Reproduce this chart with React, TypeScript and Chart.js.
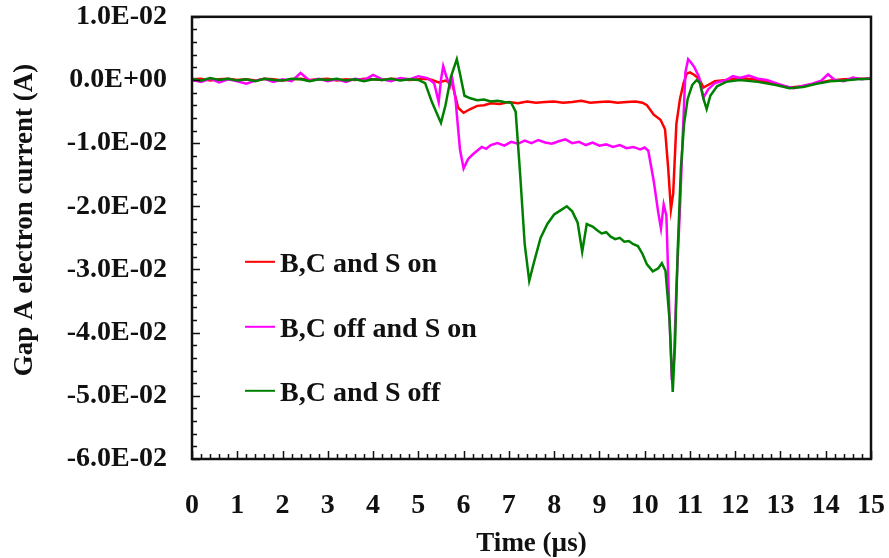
import React, { useEffect, useRef } from 'react';
import { Chart, registerables } from 'chart.js';
Chart.register(...registerables);

// ---- Data: [time (µs), current (A)] ----
const redSeries: [number, number][] = [
  [0, 0.0001], [0.2, 0.0002], [0.4, -0.0001], [0.6, 0.0001], [0.8, 0.0002], [1.0, 0.0], [1.2, 0.0001], [1.4, -0.0001], [1.6, 0.0002], [1.8, 0.0001],
  [2.0, -0.0001], [2.2, 0.0001], [2.4, 0.0002], [2.6, 0.0], [2.8, 0.0001], [3.0, 0.0002], [3.2, -0.0001], [3.4, 0.0001], [3.6, 0.0], [3.8, 0.0002],
  [4.0, 0.0001], [4.2, 0.0], [4.4, 0.0002], [4.6, 0.0001], [4.8, 0.0], [5.0, 0.0001], [5.2, 0.0002], [5.3, 0.0], [5.45, -0.0004], [5.6, -0.0001],
  [5.75, -0.0006], [5.88, -0.0044], [6.0, -0.0052], [6.15, -0.0046], [6.3, -0.0041], [6.45, -0.004], [6.6, -0.0037], [6.8, -0.0038], [7.0, -0.0035], [7.2, -0.0037],
  [7.4, -0.0034], [7.6, -0.0036], [7.8, -0.0035], [8.0, -0.0034], [8.2, -0.0036], [8.4, -0.0035], [8.6, -0.0033], [8.8, -0.0036], [9.0, -0.0035], [9.2, -0.0034],
  [9.4, -0.0036], [9.6, -0.0035], [9.8, -0.0034], [9.95, -0.0036], [10.05, -0.004], [10.2, -0.0055], [10.35, -0.0063], [10.45, -0.0078], [10.52, -0.014], [10.58, -0.0205],
  [10.63, -0.018], [10.7, -0.007], [10.78, -0.003], [10.86, -0.0005], [10.93, 0.001], [11.0, 0.0012], [11.1, 0.0008], [11.2, 0.0002], [11.3, -0.0012], [11.4, -0.0008],
  [11.55, -0.0002], [11.8, 0.0], [12.1, 0.0003], [12.4, 0.0001], [12.8, -0.0004], [13.2, -0.0012], [13.5, -0.001], [13.8, -0.0005], [14.1, -0.0001], [14.4, 0.0001],
  [14.7, 0.0002], [15.0, 0.0002],
];

const magentaSeries: [number, number][] = [
  [0, 0.0], [0.2, -0.0003], [0.4, 0.0002], [0.6, -0.0004], [0.8, 0.0001], [1.0, -0.0002], [1.2, -0.0006], [1.4, -0.0001], [1.6, 0.0002], [1.8, -0.0003],
  [2.0, 0.0001], [2.2, -0.0002], [2.4, 0.0011], [2.6, -0.0001], [2.8, 0.0002], [3.0, -0.0002], [3.2, 0.0001], [3.4, -0.0003], [3.6, 0.0002], [3.8, 0.0],
  [4.0, 0.0008], [4.2, 0.0001], [4.4, -0.0002], [4.6, 0.0003], [4.8, 0.0001], [5.0, 0.0006], [5.2, 0.0003], [5.35, -0.0005], [5.45, -0.0035], [5.5, 0.0],
  [5.55, 0.0022], [5.62, 0.0005], [5.7, -0.001], [5.75, 0.0002], [5.82, -0.003], [5.92, -0.011], [6.0, -0.014], [6.1, -0.0125], [6.2, -0.0118], [6.3, -0.0112],
  [6.4, -0.0106], [6.5, -0.0109], [6.6, -0.0103], [6.75, -0.01], [6.9, -0.0104], [7.05, -0.0098], [7.2, -0.0101], [7.35, -0.0096], [7.5, -0.01], [7.65, -0.0095],
  [7.8, -0.0099], [7.95, -0.0101], [8.1, -0.0097], [8.25, -0.0094], [8.4, -0.01], [8.55, -0.0098], [8.7, -0.0103], [8.85, -0.0099], [9.0, -0.0104], [9.15, -0.0102],
  [9.3, -0.0106], [9.45, -0.0103], [9.6, -0.0108], [9.75, -0.0106], [9.9, -0.011], [10.0, -0.0107], [10.08, -0.0112], [10.2, -0.016], [10.3, -0.021], [10.36, -0.0235],
  [10.42, -0.0197], [10.48, -0.0215], [10.55, -0.038], [10.6, -0.0475], [10.65, -0.044], [10.7, -0.033], [10.78, -0.0203], [10.84, -0.009], [10.9, 0.0012], [10.96, 0.0033],
  [11.02, 0.0028], [11.1, 0.002], [11.2, 0.0005], [11.3, -0.0028], [11.4, -0.0015], [11.55, -0.0005], [11.8, 0.0], [11.95, 0.0006], [12.1, 0.0003], [12.3, 0.0007],
  [12.5, 0.0002], [12.7, 0.0], [12.9, -0.0005], [13.1, -0.001], [13.3, -0.0013], [13.5, -0.0009], [13.7, -0.0006], [13.9, -0.0001], [14.05, 0.0009], [14.2, 0.0],
  [14.4, -0.0002], [14.6, 0.0004], [14.8, 0.0001], [15.0, 0.0003],
];

const greenSeries: [number, number][] = [
  [0, 0.0002], [0.2, -0.0001], [0.4, 0.0003], [0.6, 0.0], [0.8, 0.0002], [1.0, -0.0001], [1.2, 0.0001], [1.4, -0.0002], [1.6, 0.0002], [1.8, 0.0],
  [2.0, -0.0001], [2.2, 0.0002], [2.4, 0.0001], [2.6, -0.0002], [2.8, 0.0001], [3.0, 0.0], [3.2, 0.0002], [3.4, -0.0001], [3.6, 0.0001], [3.8, -0.0002],
  [4.0, 0.0001], [4.2, 0.0], [4.4, 0.0002], [4.6, -0.0001], [4.8, 0.0001], [5.0, 0.0], [5.15, -0.0005], [5.3, -0.0035], [5.5, -0.0068], [5.6, -0.004],
  [5.72, 0.0005], [5.85, 0.0033], [5.92, 0.001], [6.02, -0.0025], [6.15, -0.0029], [6.3, -0.0032], [6.45, -0.0031], [6.6, -0.0034], [6.75, -0.0033], [6.9, -0.0035],
  [7.05, -0.0036], [7.15, -0.005], [7.25, -0.015], [7.35, -0.026], [7.45, -0.0318], [7.55, -0.029], [7.7, -0.025], [7.85, -0.0228], [8.0, -0.0213], [8.15, -0.0206],
  [8.28, -0.02], [8.4, -0.0208], [8.52, -0.0226], [8.62, -0.0272], [8.72, -0.0228], [8.85, -0.0232], [8.95, -0.0238], [9.05, -0.0243], [9.15, -0.0241], [9.25, -0.0248],
  [9.35, -0.0252], [9.45, -0.025], [9.55, -0.0256], [9.65, -0.0255], [9.75, -0.026], [9.85, -0.0263], [9.95, -0.0275], [10.05, -0.0292], [10.18, -0.0303], [10.3, -0.0298],
  [10.38, -0.029], [10.46, -0.0302], [10.55, -0.038], [10.62, -0.0494], [10.67, -0.042], [10.73, -0.027], [10.8, -0.014], [10.87, -0.007], [10.95, -0.003], [11.05, -0.0008],
  [11.15, 0.0], [11.22, -0.0005], [11.3, -0.003], [11.37, -0.0046], [11.45, -0.0025], [11.6, -0.001], [11.8, -0.0003], [12.1, 0.0], [12.5, -0.0003], [12.9, -0.0008],
  [13.2, -0.0013], [13.5, -0.0011], [13.8, -0.0006], [14.1, -0.0002], [14.4, -0.0001], [14.7, 0.0001], [15.0, 0.0002],
];

const seriesLabels = ['B,C and S on', 'B,C off and S on', 'B,C and S off'];
const seriesColors = ['#ff0000', '#ff00ff', '#008000'];
const xTickLabels = ['0', '1', '2', '3', '4', '5', '6', '7', '8', '9', '10', '11', '12', '13', '14', '15'];
const yTickLabels = ['1.0E-02', '0.0E+00', '-1.0E-02', '-2.0E-02', '-3.0E-02', '-4.0E-02', '-5.0E-02', '-6.0E-02'];
const xTitle = 'Time (µs)';
const yTitle = 'Gap A electron current (A)';

const FONT = '"Liberation Serif", "Times New Roman", serif';

function pts(s: [number, number][]) {
  return s.map(([t, v]) => ({ x: t, y: v }));
}

const framePlugin = {
  id: 'framePlugin',
  afterDatasetsDraw(chart: any) {
    const { ctx, chartArea } = chart;
    const { left, right, top, bottom } = chartArea;
    const xs = chart.scales.x;
    const ys = chart.scales.y;
    ctx.save();
    ctx.strokeStyle = '#111';
    ctx.lineWidth = 1.5;
    ctx.beginPath();
    for (let i = 0; i <= 75; i++) {
      const px = Math.round(xs.getPixelForValue(i * 0.2)) + 0.5;
      const len = i % 5 === 0 ? 8 : 5;
      ctx.moveTo(px, bottom);
      ctx.lineTo(px, bottom - len);
    }
    for (let i = 0; i <= 35; i++) {
      const py = Math.round(ys.getPixelForValue(-0.06 + i * 0.002)) + 0.5;
      const len = i % 5 === 0 ? 8 : 5;
      ctx.moveTo(left, py);
      ctx.lineTo(left + len, py);
    }
    ctx.stroke();
    ctx.lineWidth = 2.5;
    ctx.strokeStyle = '#111';
    ctx.strokeRect(left, top, right - left, bottom - top);

    // legend
    const lx = left + 53;
    const rows = [top + 245, top + 310, top + 374];
    ctx.font = `bold 28px ${FONT}`;
    ctx.textAlign = 'left';
    ctx.textBaseline = 'middle';
    chart.data.datasets.forEach((ds: any, i: number) => {
      const y = rows[i];
      ctx.strokeStyle = ds.borderColor;
      ctx.lineWidth = 2;
      ctx.beginPath();
      ctx.moveTo(lx, y);
      ctx.lineTo(lx + 30, y);
      ctx.stroke();
      ctx.fillStyle = '#111';
      ctx.fillText(ds.label, lx + 35, y + 3);
    });

    // y title
    ctx.translate(25, 220);
    ctx.rotate(-Math.PI / 2);
    ctx.textAlign = 'center';
    ctx.textBaseline = 'middle';
    ctx.font = `bold 27px ${FONT}`;
    ctx.fillStyle = '#111';
    ctx.fillText(yTitle, 0, 0);
    ctx.restore();
  },
};

export default function App() {
  const ref = useRef<HTMLCanvasElement | null>(null);
  useEffect(() => {
    if (!ref.current) return;
    const values = [pts(redSeries), pts(magentaSeries), pts(greenSeries)];
    const chart = new Chart(ref.current, {
      type: 'line',
      data: {
        datasets: values.map((d, i) => ({
          label: seriesLabels[i],
          data: d,
          borderColor: seriesColors[i],
          backgroundColor: seriesColors[i],
          borderWidth: 2.5,
          pointRadius: 0,
          tension: 0,
          fill: false,
          order: 2 - i,
        })),
      },
      options: {
        animation: false,
        responsive: false,
        devicePixelRatio: 1,
        layout: { padding: { top: 16, right: 18, left: 0, bottom: 0 } },
        plugins: { legend: { display: false }, tooltip: { enabled: false } },
        scales: {
          x: {
            type: 'linear',
            min: 0,
            max: 15,
            afterFit: (s: any) => { s.height = 99; },
            grid: { display: false, drawTicks: true, tickLength: 30 },
            border: { display: false },
            ticks: {
              stepSize: 1,
              padding: 0,
              color: '#111',
              font: { family: FONT, size: 28, weight: 'bold' },
              maxRotation: 0,
              autoSkip: false,
              callback: (v: any) => xTickLabels[Math.round(v)] ?? '',
            },
            title: {
              display: true,
              text: xTitle,
              color: '#111',
              font: { family: FONT, size: 27, weight: 'bold', lineHeight: 1 },
              padding: { top: 0, bottom: 0 },
            },
          },
          y: {
            type: 'linear',
            min: -0.06,
            max: 0.01,
            afterFit: (s: any) => { s.width = 192; },
            grid: { display: false, drawTicks: true, tickLength: 25 },
            border: { display: false },
            ticks: {
              stepSize: 0.01,
              padding: 0,
              color: '#111',
              font: { family: FONT, size: 28, weight: 'bold' },
              callback: (v: any) => yTickLabels[Math.round((0.01 - v) / 0.01)] ?? '',
            },
          },
        },
      },
      plugins: [framePlugin],
    } as any);
    return () => chart.destroy();
  }, []);
  return (
    <div style={{ position: 'fixed', left: 0, top: 0, width: 889, height: 558, background: '#fff' }}>
      <canvas ref={ref} width={889} height={558} style={{ display: 'block' }} />
    </div>
  );
}
